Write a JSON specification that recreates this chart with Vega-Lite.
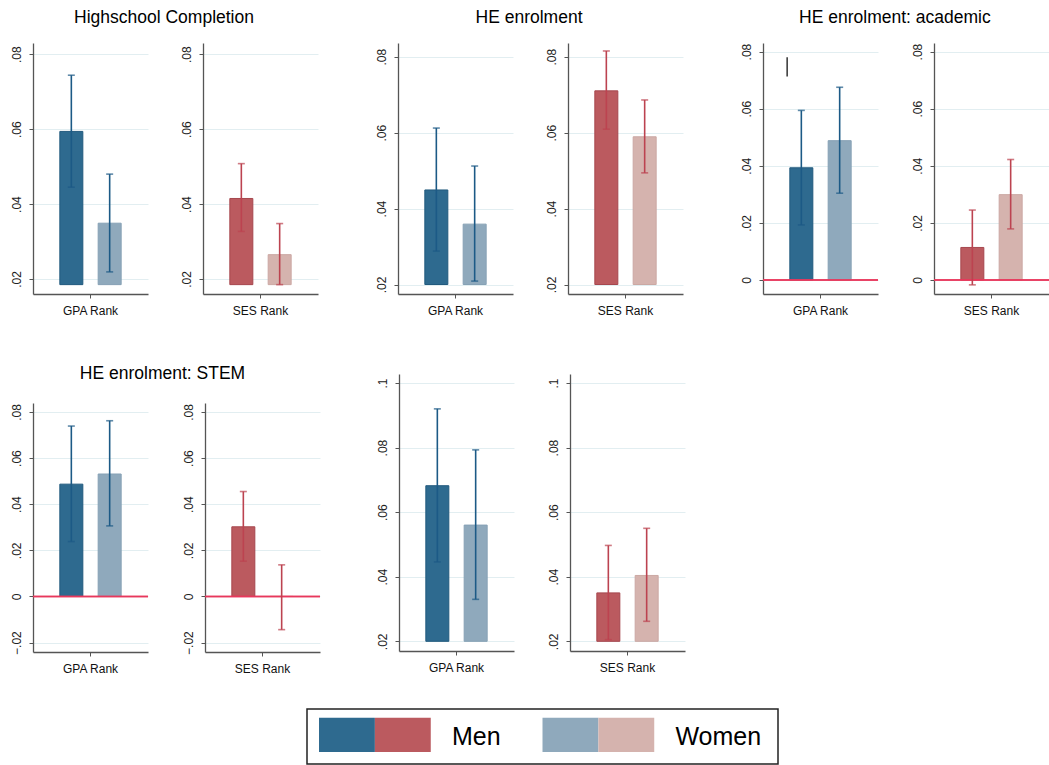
{
  "$schema": "https://vega.github.io/schema/vega-lite/v6.json",
  "background": "white",
  "padding": {"left": 9, "top": 8, "right": 0, "bottom": 0},
  "datasets": {
    "bars": [
      {"panel": "HS GPA", "rank": "GPA Rank", "sex": "Men", "series": "GPA Men", "est": 0.0594, "lo": 0.0445, "hi": 0.0744, "base": 0.0185},
      {"panel": "HS GPA", "rank": "GPA Rank", "sex": "Women", "series": "GPA Women", "est": 0.0349, "lo": 0.0219, "hi": 0.048, "base": 0.0185},
      {"panel": "HS SES", "rank": "SES Rank", "sex": "Men", "series": "SES Men", "est": 0.0415, "lo": 0.0327, "hi": 0.0508, "base": 0.0185},
      {"panel": "HS SES", "rank": "SES Rank", "sex": "Women", "series": "SES Women", "est": 0.0265, "lo": 0.0185, "hi": 0.0348, "base": 0.0185},
      {"panel": "HE GPA", "rank": "GPA Rank", "sex": "Men", "series": "GPA Men", "est": 0.0449, "lo": 0.0288, "hi": 0.0612, "base": 0.02},
      {"panel": "HE GPA", "rank": "GPA Rank", "sex": "Women", "series": "GPA Women", "est": 0.0359, "lo": 0.0209, "hi": 0.0512, "base": 0.02},
      {"panel": "HE SES", "rank": "SES Rank", "sex": "Men", "series": "SES Men", "est": 0.071, "lo": 0.0609, "hi": 0.0815, "base": 0.02},
      {"panel": "HE SES", "rank": "SES Rank", "sex": "Women", "series": "SES Women", "est": 0.0589, "lo": 0.0494, "hi": 0.0686, "base": 0.02},
      {"panel": "AC GPA", "rank": "GPA Rank", "sex": "Men", "series": "GPA Men", "est": 0.0393, "lo": 0.0193, "hi": 0.0594, "base": 0},
      {"panel": "AC GPA", "rank": "GPA Rank", "sex": "Women", "series": "GPA Women", "est": 0.0488, "lo": 0.0304, "hi": 0.0675, "base": 0},
      {"panel": "AC SES", "rank": "SES Rank", "sex": "Men", "series": "SES Men", "est": 0.0114, "lo": -0.0017, "hi": 0.0245, "base": 0},
      {"panel": "AC SES", "rank": "SES Rank", "sex": "Women", "series": "SES Women", "est": 0.0299, "lo": 0.0179, "hi": 0.0422, "base": 0},
      {"panel": "ST GPA", "rank": "GPA Rank", "sex": "Men", "series": "GPA Men", "est": 0.0487, "lo": 0.0238, "hi": 0.0739, "base": 0},
      {"panel": "ST GPA", "rank": "GPA Rank", "sex": "Women", "series": "GPA Women", "est": 0.0531, "lo": 0.0306, "hi": 0.0762, "base": 0},
      {"panel": "ST SES", "rank": "SES Rank", "sex": "Men", "series": "SES Men", "est": 0.0302, "lo": 0.0153, "hi": 0.0455, "base": 0},
      {"panel": "ST SES", "rank": "SES Rank", "sex": "Women", "series": "SES Women", "est": 0.0, "lo": -0.0144, "hi": 0.0137, "base": 0},
      {"panel": "X GPA", "rank": "GPA Rank", "sex": "Men", "series": "GPA Men", "est": 0.0682, "lo": 0.0446, "hi": 0.092, "base": 0.02},
      {"panel": "X GPA", "rank": "GPA Rank", "sex": "Women", "series": "GPA Women", "est": 0.056, "lo": 0.033, "hi": 0.0793, "base": 0.02},
      {"panel": "X SES", "rank": "SES Rank", "sex": "Men", "series": "SES Men", "est": 0.035, "lo": 0.0205, "hi": 0.0497, "base": 0.02},
      {"panel": "X SES", "rank": "SES Rank", "sex": "Women", "series": "SES Women", "est": 0.0404, "lo": 0.0262, "hi": 0.055, "base": 0.02}
    ],
    "stray": [
      {"panel": "AC GPA", "rank": "GPA Rank", "lo": 0.0713, "hi": 0.078}
    ],
    "legend": [
      {"slot": "Men GPA", "series": "GPA Men"},
      {"slot": "Men SES", "series": "SES Men"},
      {"slot": "Men label", "label": "Men"},
      {"slot": "Women GPA", "series": "GPA Women"},
      {"slot": "Women SES", "series": "SES Women"},
      {"slot": "Women label", "label": "Women"}
    ]
  },
  "data": {"name": "bars"},
  "vconcat": [
    {
      "spacing": 48,
      "vconcat": [
        {
          "spacing": 57,
          "hconcat": [
            {
              "title": {"text": "Highschool Completion", "anchor": "middle", "offset": 17},
              "spacing": 32,
              "hconcat": [
                {
                  "width": 115, "height": 251,
                  "transform": [{"filter": "datum.panel == 'HS GPA'"}],
                  "layer": [
                    {"mark": {"type": "bar", "strokeWidth": 1},
                     "encoding": {
                       "x": {"field": "rank", "type": "nominal", "title": null, "scale": {"paddingInner": 0, "paddingOuter": 0}},
                       "xOffset": {"field": "sex", "type": "nominal", "scale": {"domain": ["Men", "Women"], "paddingInner": 0.4, "paddingOuter": 0.7}},
                       "y": {"field": "est", "type": "quantitative", "title": null, "scale": {"domain": [0.016, 0.083], "nice": false, "zero": false}, "axis": {"values": [0.02, 0.04, 0.06, 0.08]}},
                       "y2": {"field": "base"},
                       "fill": {"field": "series", "type": "nominal", "legend": null, "scale": {"domain": ["GPA Men", "GPA Women", "SES Men", "SES Women"], "range": ["#2e6a8f", "#8fa9bc", "#bb5a5f", "#d5b3ae"]}},
                       "stroke": {"field": "series", "type": "nominal", "legend": null, "scale": {"domain": ["GPA Men", "GPA Women", "SES Men", "SES Women"], "range": ["#225a7e", "#86a1b5", "#a6474e", "#cba8a3"]}}
                     }},
                    {"mark": {"type": "rule", "strokeWidth": 1.6},
                     "encoding": {
                       "x": {"field": "rank", "type": "nominal"}, "xOffset": {"field": "sex", "type": "nominal"},
                       "y": {"field": "lo", "type": "quantitative"}, "y2": {"field": "hi"},
                       "color": {"field": "rank", "type": "nominal", "legend": null, "scale": {"domain": ["GPA Rank", "SES Rank"], "range": ["#1c5a86", "#bc4350"]}}
                     }},
                    {"mark": {"type": "tick", "thickness": 1.6, "size": 7},
                     "encoding": {"x": {"field": "rank", "type": "nominal"}, "xOffset": {"field": "sex", "type": "nominal"}, "y": {"field": "lo", "type": "quantitative"}, "color": {"field": "rank", "type": "nominal", "legend": null}}},
                    {"mark": {"type": "tick", "thickness": 1.6, "size": 7},
                     "encoding": {"x": {"field": "rank", "type": "nominal"}, "xOffset": {"field": "sex", "type": "nominal"}, "y": {"field": "hi", "type": "quantitative"}, "color": {"field": "rank", "type": "nominal", "legend": null}}}
                  ]
                },
                {
                  "width": 115, "height": 251,
                  "transform": [{"filter": "datum.panel == 'HS SES'"}],
                  "layer": [
                    {"mark": {"type": "bar", "strokeWidth": 1},
                     "encoding": {
                       "x": {"field": "rank", "type": "nominal", "title": null, "scale": {"paddingInner": 0, "paddingOuter": 0}},
                       "xOffset": {"field": "sex", "type": "nominal", "scale": {"domain": ["Men", "Women"], "paddingInner": 0.4, "paddingOuter": 0.7}},
                       "y": {"field": "est", "type": "quantitative", "title": null, "scale": {"domain": [0.016, 0.083], "nice": false, "zero": false}, "axis": {"values": [0.02, 0.04, 0.06, 0.08]}},
                       "y2": {"field": "base"},
                       "fill": {"field": "series", "type": "nominal", "legend": null},
                       "stroke": {"field": "series", "type": "nominal", "legend": null}
                     }},
                    {"mark": {"type": "rule", "strokeWidth": 1.6},
                     "encoding": {"x": {"field": "rank", "type": "nominal"}, "xOffset": {"field": "sex", "type": "nominal"}, "y": {"field": "lo", "type": "quantitative"}, "y2": {"field": "hi"}, "color": {"field": "rank", "type": "nominal", "legend": null}}},
                    {"mark": {"type": "tick", "thickness": 1.6, "size": 7},
                     "encoding": {"x": {"field": "rank", "type": "nominal"}, "xOffset": {"field": "sex", "type": "nominal"}, "y": {"field": "lo", "type": "quantitative"}, "color": {"field": "rank", "type": "nominal", "legend": null}}},
                    {"mark": {"type": "tick", "thickness": 1.6, "size": 7},
                     "encoding": {"x": {"field": "rank", "type": "nominal"}, "xOffset": {"field": "sex", "type": "nominal"}, "y": {"field": "hi", "type": "quantitative"}, "color": {"field": "rank", "type": "nominal", "legend": null}}}
                  ]
                }
              ]
            },
            {
              "title": {"text": "HE enrolment", "anchor": "middle", "offset": 17},
              "spacing": 32,
              "hconcat": [
                {
                  "width": 115, "height": 251,
                  "transform": [{"filter": "datum.panel == 'HE GPA'"}],
                  "layer": [
                    {"mark": {"type": "bar", "strokeWidth": 1},
                     "encoding": {
                       "x": {"field": "rank", "type": "nominal", "title": null, "scale": {"paddingInner": 0, "paddingOuter": 0}},
                       "xOffset": {"field": "sex", "type": "nominal", "scale": {"domain": ["Men", "Women"], "paddingInner": 0.4, "paddingOuter": 0.7}},
                       "y": {"field": "est", "type": "quantitative", "title": null, "scale": {"domain": [0.0175, 0.0836], "nice": false, "zero": false}, "axis": {"values": [0.02, 0.04, 0.06, 0.08]}},
                       "y2": {"field": "base"},
                       "fill": {"field": "series", "type": "nominal", "legend": null},
                       "stroke": {"field": "series", "type": "nominal", "legend": null}
                     }},
                    {"mark": {"type": "rule", "strokeWidth": 1.6},
                     "encoding": {"x": {"field": "rank", "type": "nominal"}, "xOffset": {"field": "sex", "type": "nominal"}, "y": {"field": "lo", "type": "quantitative"}, "y2": {"field": "hi"}, "color": {"field": "rank", "type": "nominal", "legend": null}}},
                    {"mark": {"type": "tick", "thickness": 1.6, "size": 7},
                     "encoding": {"x": {"field": "rank", "type": "nominal"}, "xOffset": {"field": "sex", "type": "nominal"}, "y": {"field": "lo", "type": "quantitative"}, "color": {"field": "rank", "type": "nominal", "legend": null}}},
                    {"mark": {"type": "tick", "thickness": 1.6, "size": 7},
                     "encoding": {"x": {"field": "rank", "type": "nominal"}, "xOffset": {"field": "sex", "type": "nominal"}, "y": {"field": "hi", "type": "quantitative"}, "color": {"field": "rank", "type": "nominal", "legend": null}}}
                  ]
                },
                {
                  "width": 115, "height": 251,
                  "transform": [{"filter": "datum.panel == 'HE SES'"}],
                  "layer": [
                    {"mark": {"type": "bar", "strokeWidth": 1},
                     "encoding": {
                       "x": {"field": "rank", "type": "nominal", "title": null, "scale": {"paddingInner": 0, "paddingOuter": 0}},
                       "xOffset": {"field": "sex", "type": "nominal", "scale": {"domain": ["Men", "Women"], "paddingInner": 0.4, "paddingOuter": 0.7}},
                       "y": {"field": "est", "type": "quantitative", "title": null, "scale": {"domain": [0.0175, 0.0836], "nice": false, "zero": false}, "axis": {"values": [0.02, 0.04, 0.06, 0.08]}},
                       "y2": {"field": "base"},
                       "fill": {"field": "series", "type": "nominal", "legend": null},
                       "stroke": {"field": "series", "type": "nominal", "legend": null}
                     }},
                    {"mark": {"type": "rule", "strokeWidth": 1.6},
                     "encoding": {"x": {"field": "rank", "type": "nominal"}, "xOffset": {"field": "sex", "type": "nominal"}, "y": {"field": "lo", "type": "quantitative"}, "y2": {"field": "hi"}, "color": {"field": "rank", "type": "nominal", "legend": null}}},
                    {"mark": {"type": "tick", "thickness": 1.6, "size": 7},
                     "encoding": {"x": {"field": "rank", "type": "nominal"}, "xOffset": {"field": "sex", "type": "nominal"}, "y": {"field": "lo", "type": "quantitative"}, "color": {"field": "rank", "type": "nominal", "legend": null}}},
                    {"mark": {"type": "tick", "thickness": 1.6, "size": 7},
                     "encoding": {"x": {"field": "rank", "type": "nominal"}, "xOffset": {"field": "sex", "type": "nominal"}, "y": {"field": "hi", "type": "quantitative"}, "color": {"field": "rank", "type": "nominal", "legend": null}}}
                  ]
                }
              ]
            },
            {
              "title": {"text": "HE enrolment: academic", "anchor": "middle", "offset": 17},
              "spacing": 32,
              "hconcat": [
                {
                  "width": 115, "height": 251,
                  "layer": [
                    {"transform": [{"filter": "datum.panel == 'AC GPA'"}],
                     "mark": {"type": "bar", "strokeWidth": 1},
                     "encoding": {
                       "x": {"field": "rank", "type": "nominal", "title": null, "scale": {"paddingInner": 0, "paddingOuter": 0}},
                       "xOffset": {"field": "sex", "type": "nominal", "scale": {"domain": ["Men", "Women"], "paddingInner": 0.4, "paddingOuter": 0.7}},
                       "y": {"field": "est", "type": "quantitative", "title": null, "scale": {"domain": [-0.0049, 0.083], "nice": false, "zero": false}, "axis": {"values": [0, 0.02, 0.04, 0.06, 0.08]}},
                       "y2": {"field": "base"},
                       "fill": {"field": "series", "type": "nominal", "legend": null},
                       "stroke": {"field": "series", "type": "nominal", "legend": null}
                     }},
                    {"transform": [{"filter": "datum.panel == 'AC GPA'"}],
                     "mark": {"type": "rule", "color": "#e8385c", "strokeWidth": 1.5},
                     "encoding": {"y": {"datum": 0, "type": "quantitative"}}},
                    {"data": {"name": "stray"},
                     "mark": {"type": "rule", "color": "#333333", "strokeWidth": 1.5},
                     "encoding": {"x": {"field": "rank", "type": "nominal", "bandPosition": 0.21}, "y": {"field": "lo", "type": "quantitative"}, "y2": {"field": "hi"}}},
                    {"transform": [{"filter": "datum.panel == 'AC GPA'"}],
                     "mark": {"type": "rule", "strokeWidth": 1.6},
                     "encoding": {"x": {"field": "rank", "type": "nominal"}, "xOffset": {"field": "sex", "type": "nominal"}, "y": {"field": "lo", "type": "quantitative"}, "y2": {"field": "hi"}, "color": {"field": "rank", "type": "nominal", "legend": null}}},
                    {"transform": [{"filter": "datum.panel == 'AC GPA'"}],
                     "mark": {"type": "tick", "thickness": 1.6, "size": 7},
                     "encoding": {"x": {"field": "rank", "type": "nominal"}, "xOffset": {"field": "sex", "type": "nominal"}, "y": {"field": "lo", "type": "quantitative"}, "color": {"field": "rank", "type": "nominal", "legend": null}}},
                    {"transform": [{"filter": "datum.panel == 'AC GPA'"}],
                     "mark": {"type": "tick", "thickness": 1.6, "size": 7},
                     "encoding": {"x": {"field": "rank", "type": "nominal"}, "xOffset": {"field": "sex", "type": "nominal"}, "y": {"field": "hi", "type": "quantitative"}, "color": {"field": "rank", "type": "nominal", "legend": null}}}
                  ]
                },
                {
                  "width": 115, "height": 251,
                  "transform": [{"filter": "datum.panel == 'AC SES'"}],
                  "layer": [
                    {"mark": {"type": "bar", "strokeWidth": 1},
                     "encoding": {
                       "x": {"field": "rank", "type": "nominal", "title": null, "scale": {"paddingInner": 0, "paddingOuter": 0}},
                       "xOffset": {"field": "sex", "type": "nominal", "scale": {"domain": ["Men", "Women"], "paddingInner": 0.4, "paddingOuter": 0.7}},
                       "y": {"field": "est", "type": "quantitative", "title": null, "scale": {"domain": [-0.0049, 0.083], "nice": false, "zero": false}, "axis": {"values": [0, 0.02, 0.04, 0.06, 0.08]}},
                       "y2": {"field": "base"},
                       "fill": {"field": "series", "type": "nominal", "legend": null},
                       "stroke": {"field": "series", "type": "nominal", "legend": null}
                     }},
                    {"mark": {"type": "rule", "color": "#e8385c", "strokeWidth": 1.5},
                     "encoding": {"y": {"datum": 0, "type": "quantitative"}}},
                    {"mark": {"type": "rule", "strokeWidth": 1.6},
                     "encoding": {"x": {"field": "rank", "type": "nominal"}, "xOffset": {"field": "sex", "type": "nominal"}, "y": {"field": "lo", "type": "quantitative"}, "y2": {"field": "hi"}, "color": {"field": "rank", "type": "nominal", "legend": null}}},
                    {"mark": {"type": "tick", "thickness": 1.6, "size": 7},
                     "encoding": {"x": {"field": "rank", "type": "nominal"}, "xOffset": {"field": "sex", "type": "nominal"}, "y": {"field": "lo", "type": "quantitative"}, "color": {"field": "rank", "type": "nominal", "legend": null}}},
                    {"mark": {"type": "tick", "thickness": 1.6, "size": 7},
                     "encoding": {"x": {"field": "rank", "type": "nominal"}, "xOffset": {"field": "sex", "type": "nominal"}, "y": {"field": "hi", "type": "quantitative"}, "color": {"field": "rank", "type": "nominal", "legend": null}}}
                  ]
                }
              ]
            }
          ]
        },
        {
          "spacing": 54,
          "hconcat": [
            {
              "spacing": 21,
              "vconcat": [
                {
                  "width": 259, "height": 1,
                  "title": {"text": "HE enrolment: STEM", "anchor": "middle", "baseline": "middle", "offset": -17},
                  "data": {"values": []},
                  "mark": {"type": "point", "opacity": 0},
                  "encoding": {}
                },
                {
                  "spacing": 32,
                  "hconcat": [
                    {
                      "width": 115, "height": 249,
                      "transform": [{"filter": "datum.panel == 'ST GPA'"}],
                      "layer": [
                        {"mark": {"type": "bar", "strokeWidth": 1},
                         "encoding": {
                           "x": {"field": "rank", "type": "nominal", "title": null, "scale": {"paddingInner": 0, "paddingOuter": 0}},
                           "xOffset": {"field": "sex", "type": "nominal", "scale": {"domain": ["Men", "Women"], "paddingInner": 0.4, "paddingOuter": 0.7}},
                           "y": {"field": "est", "type": "quantitative", "title": null, "scale": {"domain": [-0.0241, 0.0839], "nice": false, "zero": false}, "axis": {"values": [-0.02, 0, 0.02, 0.04, 0.06, 0.08]}},
                           "y2": {"field": "base"},
                           "fill": {"field": "series", "type": "nominal", "legend": null},
                           "stroke": {"field": "series", "type": "nominal", "legend": null}
                         }},
                        {"mark": {"type": "rule", "color": "#e8385c", "strokeWidth": 1.5},
                         "encoding": {"y": {"datum": 0, "type": "quantitative"}}},
                        {"mark": {"type": "rule", "strokeWidth": 1.6},
                         "encoding": {"x": {"field": "rank", "type": "nominal"}, "xOffset": {"field": "sex", "type": "nominal"}, "y": {"field": "lo", "type": "quantitative"}, "y2": {"field": "hi"}, "color": {"field": "rank", "type": "nominal", "legend": null}}},
                        {"mark": {"type": "tick", "thickness": 1.6, "size": 7},
                         "encoding": {"x": {"field": "rank", "type": "nominal"}, "xOffset": {"field": "sex", "type": "nominal"}, "y": {"field": "lo", "type": "quantitative"}, "color": {"field": "rank", "type": "nominal", "legend": null}}},
                        {"mark": {"type": "tick", "thickness": 1.6, "size": 7},
                         "encoding": {"x": {"field": "rank", "type": "nominal"}, "xOffset": {"field": "sex", "type": "nominal"}, "y": {"field": "hi", "type": "quantitative"}, "color": {"field": "rank", "type": "nominal", "legend": null}}}
                      ]
                    },
                    {
                      "width": 115, "height": 249,
                      "transform": [{"filter": "datum.panel == 'ST SES'"}],
                      "layer": [
                        {"mark": {"type": "bar", "strokeWidth": 1},
                         "encoding": {
                           "x": {"field": "rank", "type": "nominal", "title": null, "scale": {"paddingInner": 0, "paddingOuter": 0}},
                           "xOffset": {"field": "sex", "type": "nominal", "scale": {"domain": ["Men", "Women"], "paddingInner": 0.4, "paddingOuter": 0.7}},
                           "y": {"field": "est", "type": "quantitative", "title": null, "scale": {"domain": [-0.0241, 0.0839], "nice": false, "zero": false}, "axis": {"values": [-0.02, 0, 0.02, 0.04, 0.06, 0.08]}},
                           "y2": {"field": "base"},
                           "fill": {"field": "series", "type": "nominal", "legend": null},
                           "stroke": {"field": "series", "type": "nominal", "legend": null}
                         }},
                        {"mark": {"type": "rule", "color": "#e8385c", "strokeWidth": 1.5},
                         "encoding": {"y": {"datum": 0, "type": "quantitative"}}},
                        {"mark": {"type": "rule", "strokeWidth": 1.6},
                         "encoding": {"x": {"field": "rank", "type": "nominal"}, "xOffset": {"field": "sex", "type": "nominal"}, "y": {"field": "lo", "type": "quantitative"}, "y2": {"field": "hi"}, "color": {"field": "rank", "type": "nominal", "legend": null}}},
                        {"mark": {"type": "tick", "thickness": 1.6, "size": 7},
                         "encoding": {"x": {"field": "rank", "type": "nominal"}, "xOffset": {"field": "sex", "type": "nominal"}, "y": {"field": "lo", "type": "quantitative"}, "color": {"field": "rank", "type": "nominal", "legend": null}}},
                        {"mark": {"type": "tick", "thickness": 1.6, "size": 7},
                         "encoding": {"x": {"field": "rank", "type": "nominal"}, "xOffset": {"field": "sex", "type": "nominal"}, "y": {"field": "hi", "type": "quantitative"}, "color": {"field": "rank", "type": "nominal", "legend": null}}}
                      ]
                    }
                  ]
                }
              ]
            },
            {
              "spacing": 32,
              "hconcat": [
                {
                  "width": 115, "height": 277,
                  "transform": [{"filter": "datum.panel == 'X GPA'"}],
                  "layer": [
                    {"mark": {"type": "bar", "strokeWidth": 1},
                     "encoding": {
                       "x": {"field": "rank", "type": "nominal", "title": null, "scale": {"paddingInner": 0, "paddingOuter": 0}},
                       "xOffset": {"field": "sex", "type": "nominal", "scale": {"domain": ["Men", "Women"], "paddingInner": 0.4, "paddingOuter": 0.7}},
                       "y": {"field": "est", "type": "quantitative", "title": null, "scale": {"domain": [0.017, 0.1028], "nice": false, "zero": false}, "axis": {"values": [0.02, 0.04, 0.06, 0.08, 0.1]}},
                       "y2": {"field": "base"},
                       "fill": {"field": "series", "type": "nominal", "legend": null},
                       "stroke": {"field": "series", "type": "nominal", "legend": null}
                     }},
                    {"mark": {"type": "rule", "strokeWidth": 1.6},
                     "encoding": {"x": {"field": "rank", "type": "nominal"}, "xOffset": {"field": "sex", "type": "nominal"}, "y": {"field": "lo", "type": "quantitative"}, "y2": {"field": "hi"}, "color": {"field": "rank", "type": "nominal", "legend": null}}},
                    {"mark": {"type": "tick", "thickness": 1.6, "size": 7},
                     "encoding": {"x": {"field": "rank", "type": "nominal"}, "xOffset": {"field": "sex", "type": "nominal"}, "y": {"field": "lo", "type": "quantitative"}, "color": {"field": "rank", "type": "nominal", "legend": null}}},
                    {"mark": {"type": "tick", "thickness": 1.6, "size": 7},
                     "encoding": {"x": {"field": "rank", "type": "nominal"}, "xOffset": {"field": "sex", "type": "nominal"}, "y": {"field": "hi", "type": "quantitative"}, "color": {"field": "rank", "type": "nominal", "legend": null}}}
                  ]
                },
                {
                  "width": 115, "height": 277,
                  "transform": [{"filter": "datum.panel == 'X SES'"}],
                  "layer": [
                    {"mark": {"type": "bar", "strokeWidth": 1},
                     "encoding": {
                       "x": {"field": "rank", "type": "nominal", "title": null, "scale": {"paddingInner": 0, "paddingOuter": 0}},
                       "xOffset": {"field": "sex", "type": "nominal", "scale": {"domain": ["Men", "Women"], "paddingInner": 0.4, "paddingOuter": 0.7}},
                       "y": {"field": "est", "type": "quantitative", "title": null, "scale": {"domain": [0.017, 0.1028], "nice": false, "zero": false}, "axis": {"values": [0.02, 0.04, 0.06, 0.08, 0.1]}},
                       "y2": {"field": "base"},
                       "fill": {"field": "series", "type": "nominal", "legend": null},
                       "stroke": {"field": "series", "type": "nominal", "legend": null}
                     }},
                    {"mark": {"type": "rule", "strokeWidth": 1.6},
                     "encoding": {"x": {"field": "rank", "type": "nominal"}, "xOffset": {"field": "sex", "type": "nominal"}, "y": {"field": "lo", "type": "quantitative"}, "y2": {"field": "hi"}, "color": {"field": "rank", "type": "nominal", "legend": null}}},
                    {"mark": {"type": "tick", "thickness": 1.6, "size": 7},
                     "encoding": {"x": {"field": "rank", "type": "nominal"}, "xOffset": {"field": "sex", "type": "nominal"}, "y": {"field": "lo", "type": "quantitative"}, "color": {"field": "rank", "type": "nominal", "legend": null}}},
                    {"mark": {"type": "tick", "thickness": 1.6, "size": 7},
                     "encoding": {"x": {"field": "rank", "type": "nominal"}, "xOffset": {"field": "sex", "type": "nominal"}, "y": {"field": "hi", "type": "quantitative"}, "color": {"field": "rank", "type": "nominal", "legend": null}}}
                  ]
                }
              ]
            }
          ]
        }
      ]
    },
    {
      "spacing": 0,
      "hconcat": [
        {
          "width": 273, "height": 55,
          "data": {"values": []},
          "mark": {"type": "point", "opacity": 0},
          "encoding": {}
        },
        {
          "width": 471, "height": 55,
          "view": {"stroke": "#222222", "strokeWidth": 1.5},
          "data": {"name": "legend"},
          "layer": [
            {"transform": [{"filter": "isValid(datum.series)"}],
             "mark": {"type": "rect"},
             "encoding": {
               "x": {"field": "slot", "type": "nominal", "axis": null, "scale": {"domain": ["Men GPA", "Men SES", "Men label", "Men pad", "Women GPA", "Women SES", "Women label", "Women pad"], "paddingInner": 0, "paddingOuter": 0.215}},
               "y": {"datum": 0.22, "type": "quantitative", "axis": null, "scale": {"domain": [0, 1], "nice": false}},
               "y2": {"datum": 0.84},
               "fill": {"field": "series", "type": "nominal", "legend": null}
             }},
            {"transform": [{"filter": "isValid(datum.label)"}],
             "mark": {"type": "text", "align": "left", "baseline": "middle", "fontSize": 25, "font": "Liberation Sans", "color": "#000000"},
             "encoding": {
               "x": {"field": "slot", "type": "nominal", "axis": null, "bandPosition": 0.38},
               "y": {"datum": 0.5, "type": "quantitative"},
               "text": {"field": "label", "type": "nominal"}
             }}
          ]
        }
      ]
    }
  ],
  "spacing": 34,
  "config": {
    "view": {"stroke": null},
    "font": "Liberation Sans",
    "title": {"font": "Liberation Sans", "fontSize": 17.5, "fontWeight": "normal", "color": "#000000"},
    "axisX": {"labelAngle": 0, "tickSize": 4, "labelPadding": 7, "labelFontSize": 12, "labelFont": "Liberation Sans", "labelColor": "#111111", "domainColor": "#555555", "tickColor": "#555555", "domainWidth": 1.3, "grid": false},
    "axisY": {"labelAngle": -90, "tickSize": 4, "labelPadding": 6, "labelFontSize": 12, "labelFont": "Liberation Sans", "labelColor": "#222222", "domainColor": "#555555", "tickColor": "#555555", "domainWidth": 1.3, "grid": true, "gridColor": "#e2eef1", "gridWidth": 1, "labelExpr": "replace(format(datum.value, '.2~f'), '0.', '.')"}
  }
}
